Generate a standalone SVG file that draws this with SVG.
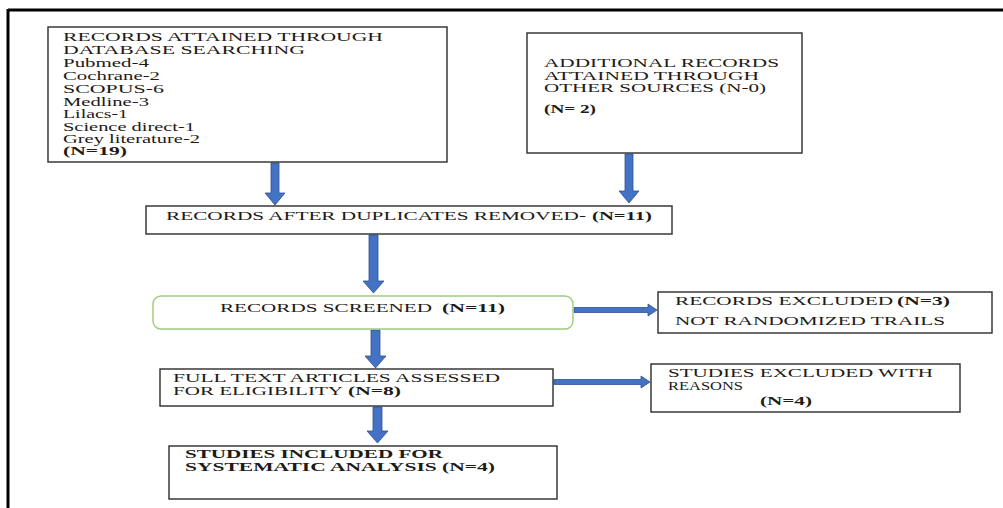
<svg xmlns="http://www.w3.org/2000/svg" width="1003" height="508" viewBox="0 0 1003 508">
<style>
text{font-family:"Liberation Serif","Times New Roman",serif;font-size:13px;fill:#1e1a16;}
.s{font-size:12px;}
.b{font-weight:bold;}
.box{fill:#fff;stroke:#2b2b2b;stroke-width:1.4;}
.rbox{fill:#fff;stroke:#9ccc7c;stroke-width:1.4;}
.arr{fill:#4472c4;stroke:#2f528f;stroke-width:0.8;}
</style>
<rect width="1003" height="508" fill="#fff"/>
<g id="frame">
<line x1="8" y1="10" x2="1003" y2="10" stroke="#000" stroke-width="3"/>
<line x1="8" y1="9" x2="8" y2="508" stroke="#000" stroke-width="3"/>
</g>
<g id="connectors">
<polygon class="arr" points="271,163 279,163 279,193 285,193 275,205 265,193 271,193"/>
<polygon class="arr" points="625,154 633,154 633,191 639,191 629,203 619,191 625,191"/>
<polygon class="arr" points="369,235 378,235 378,281 384,281 373.5,293 363,281 369,281"/>
<polygon class="arr" points="371,330 380,330 380,356 386,356 375.5,368 365,356 371,356"/>
<polygon class="arr" points="373,407 382,407 382,431 388,431 377.5,443 367,431 373,431"/>
<polygon class="arr" points="574,307.5 648,307.5 648,304 657,310 648,316 648,312.5 574,312.5"/>
<polygon class="arr" points="554,379.5 641,379.5 641,376 650,382 641,388 641,384.5 554,384.5"/>
</g>
<g id="n-database">
<rect class="box" x="48" y="27" width="399" height="135"/>
<text class="s" x="63" y="41" textLength="320" lengthAdjust="spacingAndGlyphs">RECORDS ATTAINED THROUGH</text>
<text class="s" x="63" y="54" textLength="242" lengthAdjust="spacingAndGlyphs">DATABASE SEARCHING</text>
<text class="s" x="63" y="67" textLength="86" lengthAdjust="spacingAndGlyphs">Pubmed-4</text>
<text class="s" x="63" y="80" textLength="97" lengthAdjust="spacingAndGlyphs">Cochrane-2</text>
<text class="s" x="63" y="93" textLength="101" lengthAdjust="spacingAndGlyphs">SCOPUS-6</text>
<text class="s" x="63" y="106" textLength="86" lengthAdjust="spacingAndGlyphs">Medline-3</text>
<text class="s" x="63" y="118" textLength="65" lengthAdjust="spacingAndGlyphs">Lilacs-1</text>
<text class="s" x="63" y="131" textLength="132" lengthAdjust="spacingAndGlyphs">Science direct-1</text>
<text class="s" x="63" y="143" textLength="137" lengthAdjust="spacingAndGlyphs">Grey literature-2</text>
<text class="s b" x="63" y="155" textLength="64" lengthAdjust="spacingAndGlyphs">(N=19)</text>
</g>
<g id="n-additional">
<rect class="box" x="527" y="33" width="275" height="120"/>
<text class="s" x="544" y="67" textLength="235" lengthAdjust="spacingAndGlyphs">ADDITIONAL RECORDS</text>
<text class="s" x="544" y="80" textLength="215" lengthAdjust="spacingAndGlyphs">ATTAINED THROUGH</text>
<text class="s" x="544" y="92" textLength="222" lengthAdjust="spacingAndGlyphs">OTHER SOURCES (N-0)</text>
<text class="s b" x="544" y="113" textLength="52" lengthAdjust="spacingAndGlyphs">(N= 2)</text>
</g>
<g id="n-duplicates">
<rect class="box" x="146" y="206" width="526" height="28"/>
<text x="166" y="220" textLength="420" lengthAdjust="spacingAndGlyphs">RECORDS AFTER DUPLICATES REMOVED-</text>
<text class="b" x="592" y="220" textLength="60" lengthAdjust="spacingAndGlyphs">(N=11)</text>
</g>
<g id="n-screened">
<rect class="rbox" x="153" y="296" width="420" height="33" rx="8" ry="8"/>
<text x="220" y="312" textLength="212" lengthAdjust="spacingAndGlyphs">RECORDS SCREENED</text>
<text class="b" x="442" y="312" textLength="63" lengthAdjust="spacingAndGlyphs">(N=11)</text>
</g>
<g id="n-excluded">
<rect class="box" x="658" y="292" width="334" height="41"/>
<text x="675" y="305" textLength="218" lengthAdjust="spacingAndGlyphs">RECORDS EXCLUDED</text>
<text class="b" x="897" y="305" textLength="53" lengthAdjust="spacingAndGlyphs">(N=3)</text>
<text x="675" y="325" textLength="270" lengthAdjust="spacingAndGlyphs">NOT RANDOMIZED TRAILS</text>
</g>
<g id="n-fulltext">
<rect class="box" x="160" y="369" width="393" height="37"/>
<text x="173" y="382" textLength="327" lengthAdjust="spacingAndGlyphs">FULL TEXT ARTICLES ASSESSED</text>
<text x="173" y="395" textLength="170" lengthAdjust="spacingAndGlyphs">FOR ELIGIBILITY</text>
<text class="b" x="348" y="395" textLength="53" lengthAdjust="spacingAndGlyphs">(N=8)</text>
</g>
<g id="n-studies-excluded">
<rect class="box" x="651" y="364" width="309" height="48"/>
<text x="668" y="377" textLength="265" lengthAdjust="spacingAndGlyphs">STUDIES EXCLUDED WITH</text>
<text x="668" y="390" textLength="75" lengthAdjust="spacingAndGlyphs">REASONS</text>
<text class="b" x="760" y="405" textLength="52" lengthAdjust="spacingAndGlyphs">(N=4)</text>
</g>
<g id="n-included">
<rect class="box" x="169" y="446" width="388" height="53"/>
<text class="b" x="185" y="458" textLength="258" lengthAdjust="spacingAndGlyphs">STUDIES INCLUDED FOR</text>
<text class="b" x="185" y="471" textLength="310" lengthAdjust="spacingAndGlyphs">SYSTEMATIC ANALYSIS (N=4)</text>
</g>
</svg>
